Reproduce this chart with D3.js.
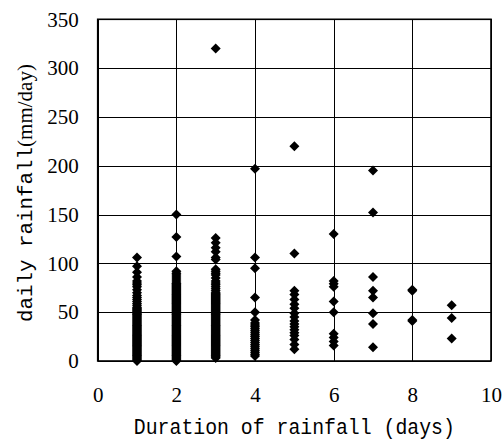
<!DOCTYPE html>
<html><head><meta charset="utf-8">
<script src="https://cdn.jsdelivr.net/npm/d3@7"></script>
<style>body{margin:0;background:#fff}svg{display:block}</style>
</head><body>
<svg id="c" width="504" height="441"></svg>
<script>
// ---- data ----
const xTicks = [0, 2, 4, 6, 8, 10];
const yTicks = [0, 50, 100, 150, 200, 250, 300, 350];
const durations = [1, 2, 3, 4, 5, 6, 7, 8, 9];
const dur1 = [0,1,2,3,4,5,6,7,8,9,10,11,12,13,14,15,16,17,18,19,20,21,22,23,24,25,26,27,28,29,30,31,32,33,34,35,36,37,38,39,40,41,42,43,44,45,46,47,48,49,50,51,52,53,54,55,57,59,61,63,65,67,70,73,76,78,80,82,86,91,97,106];
const dur2 = [0,1,2,3,4,5,6,7,8,9,10,11,12,13,14,15,16,17,18,19,20,21,22,23,24,25,26,27,28,29,30,31,32,33,34,35,36,37,38,39,40,41,42,43,44,45,46,47,48,49,50,51,52,53,54,55,56,57,58,59,60,61,62,63,64,65,66,67,68,69,70,71,72,73,74,75,76,77,78,79,80,82,84,86,88,90,92,107,127,150];
const dur3 = [3,4,5,6,7,8,9,10,11,12,13,14,15,16,17,18,19,20,21,22,23,24,25,26,27,28,29,30,31,32,33,34,35,36,37,38,39,40,41,42,43,44,45,46,47,48,49,50,51,52,53,54,55,56,57,58,59,60,61,62,63,64,65,66,67,68,69,70,72,74,76,78,80,82,85,88,90,92,94,104,106,112,116,121,126,320];
const dur4 = [5,7,9,11,13,15,17,19,21,23,25,27,29,31,33,35,37,39,42,50,65,95,106,197];
const dur5 = [12,17,22,26,29,32,35,38,41,45,49,54,58,63,68,72,110,220];
const dur6 = [16,20,24,28,50,61,76,79,82,130];
const dur7 = [14,38,49,65,72,86,152,195];
const dur8 = [41,42,72,73];
const dur9 = [23,44,57];
const series = [dur1, dur2, dur3, dur4, dur5, dur6, dur7, dur8, dur9];
const xTitle = "Duration of rainfall (days)";
const yTitleA = "daily rainfall";
const yTitleB = "(mm/day)";

const SERIF = "'Liberation Serif', 'DejaVu Serif', serif";
const MONO = "'Liberation Mono', 'DejaVu Sans Mono', monospace";

// ---- layout ----
const m = {l: 97.7, r: 491, t: 19.3, b: 361};
const svg = d3.select("#c");
const x = d3.scaleLinear().domain([0, 10]).range([m.l, m.r]);
const y = d3.scaleLinear().domain([0, 350]).range([m.b, m.t]);

// grid + y labels
const gy = svg.append("g").attr("transform", `translate(${m.l},0)`)
  .call(d3.axisLeft(y).tickValues(yTicks).tickSize(-(m.r - m.l)).tickPadding(19).tickFormat(d3.format("d")));
gy.attr("font-family", SERIF).attr("font-size", 21);
gy.select(".domain").remove();
gy.selectAll(".tick line").attr("stroke", "#000").attr("stroke-width", 1).attr("shape-rendering", "crispEdges");
gy.selectAll(".tick text").style("font-family", SERIF).style("font-size", "21px").attr("fill", "#000");

const gx = svg.append("g").attr("transform", `translate(0,${m.b})`)
  .call(d3.axisBottom(x).tickValues(xTicks).tickSize(-(m.b - m.t)).tickPadding(26).tickFormat(d3.format("d")));
gx.attr("font-family", SERIF).attr("font-size", 21);
gx.select(".domain").remove();
gx.selectAll(".tick line").attr("stroke", "#000").attr("stroke-width", 1).attr("shape-rendering", "crispEdges");
gx.selectAll(".tick text").style("font-family", SERIF).style("font-size", "21px").attr("fill", "#000");

// plot frame
svg.append("rect").attr("x", m.l).attr("y", m.t).attr("width", m.r - m.l).attr("height", m.b - m.t)
  .attr("fill", "none").attr("stroke", "#000").attr("stroke-width", 1.6);

// points
const pts = [];
series.forEach((vals, i) => vals.forEach(v => pts.push({d: durations[i], v})));
const sym = d3.symbol().type(d3.symbolSquare).size(50);
svg.append("g").selectAll("path").data(pts).join("path")
  .attr("d", sym)
  .attr("transform", p => `translate(${x(p.d)},${y(p.v)}) rotate(45)`)
  .attr("fill", "#000");

// titles
svg.append("text").attr("x", (m.l + m.r) / 2).attr("y", 434)
  .attr("text-anchor", "middle").style("font-family", MONO).style("font-size", "22px")
  .attr("textLength", 321).attr("lengthAdjust", "spacingAndGlyphs")
  .attr("fill", "#000").text(xTitle);

const yt = svg.append("text").attr("transform", "translate(32,322) rotate(-90)").attr("fill", "#000");
yt.append("tspan").style("font-family", MONO).style("font-size", "21px")
  .attr("textLength", 175).attr("lengthAdjust", "spacingAndGlyphs").text(yTitleA);
yt.append("tspan").style("font-family", SERIF).style("font-size", "20px")
  .attr("textLength", 83).attr("lengthAdjust", "spacingAndGlyphs").text(yTitleB);
</script>
</body></html>
